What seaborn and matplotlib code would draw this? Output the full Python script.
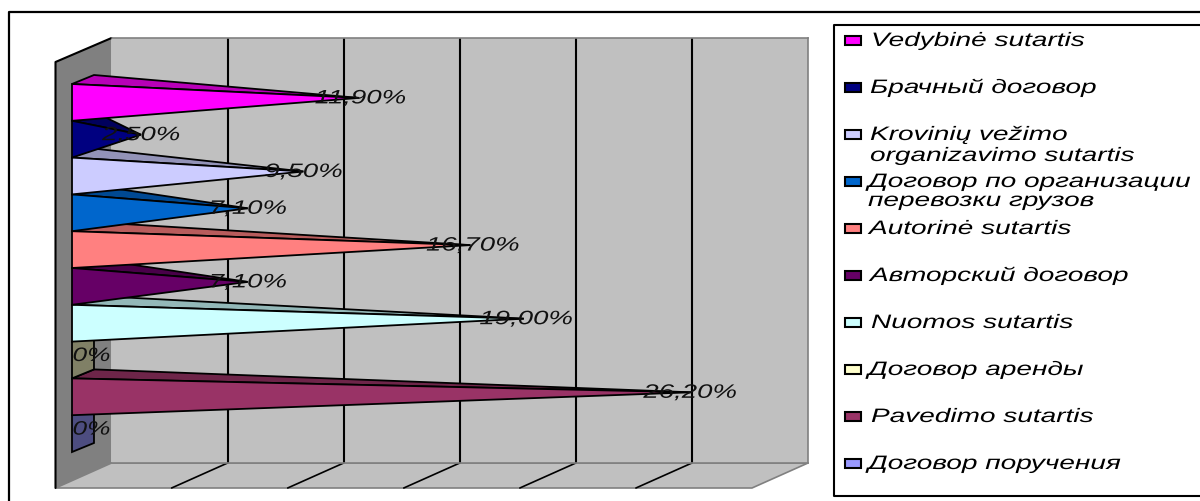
import matplotlib
matplotlib.use("Agg")
import matplotlib.pyplot as plt
from matplotlib.patches import Polygon, Rectangle
from matplotlib.patheffects import AbstractPathEffect
from matplotlib.transforms import Affine2D
from matplotlib.colors import to_rgb
import pandas as pd
import seaborn as sns

contracts = ["Vedybinė sutartis", "Брачный договор", "Krovinių vežimo\norganizavimo sutartis",
             "Договор по организации\nперевозки грузов", "Autorinė sutartis", "Авторский договор",
             "Nuomos sutartis", "Договор аренды", "Pavedimo sutartis", "Договор поручения"]
shares = [11.9, 2.5, 9.5, 7.1, 16.7, 7.1, 19.0, 0, 26.2, 0]
value_labels = ["11,90%", "2,50%", "9,50%", "7,10%", "16,70%", "7,10%", "19,00%", "0%", "26,20%", "0%"]
colors = ["#FF00FF", "#000080", "#CCCCFF", "#0066CC", "#FF8080",
          "#660066", "#CCFFFF", "#FFFFCC", "#993366", "#9999FF"]
grid_ticks = [0, 5, 10, 15, 20, 25, 30]

W, H = 1200, 502
DEPTH_X, DEPTH_Y = 22, 9      # pyramid base depth in pixels
WALL_DX, WALL_DY = 56, 25     # chart box depth in pixels


class StretchX(AbstractPathEffect):
    """Draws glyphs wider than the font's natural proportions."""
    def __init__(self, factor):
        super().__init__()
        self.factor = factor

    def draw_path(self, renderer, gc, tpath, affine, rgbFace=None):
        renderer.draw_path(gc, tpath, Affine2D().scale(self.factor, 1) + affine, rgbFace)


def shade(color, k):
    return tuple(c * k for c in to_rgb(color))


def axes_at(left, top, right, bottom, **kw):
    return fig.add_axes([left / W, 1 - bottom / H, (right - left) / W, (bottom - top) / H], **kw)


sns.set_theme(style="white")
plt.rcParams["font.family"] = ["Liberation Sans", "DejaVu Sans"]
fig = plt.figure(figsize=(W / 100, H / 100), dpi=100)

# Page layer: outer frame, legend box, walls and floor, addressed in pixels
page = fig.add_axes([0, 0, 1, 1], zorder=0)
page.set_xlim(0, W)
page.set_ylim(H, 0)
page.axis("off")
page.plot([9, 9, W], [H, 13, 13], color="black", lw=1.6)
page.plot([W, 833.5, 833.5, W], [26, 26, 497, 497], color="black", lw=1.5)

back_left, back_right, back_top, back_bottom = 111.5, 808, 39, 464
page.add_patch(Polygon([(back_left - WALL_DX, back_top + 24), (back_left, back_top),
                        (back_left, back_bottom), (back_left - WALL_DX, back_bottom + WALL_DY)],
                       fc="#808080", ec="none"))
page.plot([back_left - WALL_DX, back_left - WALL_DX, back_left],
          [back_bottom + WALL_DY, back_top + 24, back_top], color="black", lw=1.5)
page.add_patch(Polygon([(back_left - WALL_DX, back_bottom + WALL_DY), (back_left, back_bottom),
                        (back_right, back_bottom), (back_right - WALL_DX, back_bottom + WALL_DY)],
                       fc="#C0C0C0", ec="#808080", lw=1.2))

# Back wall with the value gridlines
wall = axes_at(back_left, back_top, back_right, back_bottom, zorder=1)
wall.set_facecolor("#C0C0C0")
wall.set_xlim(grid_ticks[0], grid_ticks[-1])
wall.set_ylim(0, 1)
wall.set_xticks(grid_ticks[1:-1])
wall.set_yticks([])
wall.tick_params(bottom=False, labelbottom=False)
wall.grid(axis="x", color="black", lw=1.5)
for spine in wall.spines.values():
    spine.set_color("#808080")
    spine.set_linewidth(1.2)
wall.spines["left"].set_visible(False)

# Floor lines continue the gridlines towards the viewer
px_per_unit = (back_right - back_left) / grid_ticks[-1]
for tick in grid_ticks[1:-1]:
    gx = back_left + tick * px_per_unit
    page.plot([gx, gx - WALL_DX], [back_bottom, back_bottom + WALL_DY], color="black", lw=1.2)

# Bars: the categorical layout comes from seaborn, each cell then becomes a pyramid
data = pd.DataFrame({"contract": contracts, "share": shares})
ax = axes_at(72, 85, 768, 453, zorder=2)
ax.patch.set_alpha(0)
sns.barplot(data=data, y="contract", x="share", hue="contract", palette=colors,
            width=1.0, orient="h", legend=False, dodge=False, ax=ax)
ax.set_xlim(0, grid_ticks[-1])
ax.set_ylim(len(contracts) - 0.5, -0.5)
ax.axis("off")

bars = {round(p.get_y() + p.get_height() / 2): p for p in ax.patches}
row_h = 368 / len(contracts)
dx_units = DEPTH_X / px_per_unit
dy_units = DEPTH_Y / row_h
line = dict(ec="black", lw=1.3, joinstyle="miter", clip_on=False)

# Lower rows first, so each front face covers the top face of the row beneath it
for i in reversed(range(len(contracts))):
    rect = bars[i]
    y0, y1 = rect.get_y(), rect.get_y() + rect.get_height()
    value = rect.get_width()
    color = colors[i]
    rect.set_visible(False)
    if value == 0:
        ax.add_patch(Polygon([(0, y0), (dx_units, y0 - dy_units), (dx_units, y1 - dy_units), (0, y1)],
                             fc=shade(color, 0.5), **line))
    else:
        apex = (value + dx_units / 2, (y0 + y1) / 2 - dy_units / 2)
        ax.add_patch(Polygon([(0, y0), (dx_units, y0 - dy_units), apex], fc=shade(color, 0.72), **line))
        ax.add_patch(Polygon([(0, y0), (0, y1), apex], fc=color, **line))

# Value labels are centred on each pyramid's apex
label_widths = {"11,90%": 89, "16,70%": 89, "19,00%": 89, "26,20%": 95, "2,50%": 78, "9,50%": 78, "7,10%": 78, "0%": 39}
for i, (value, label) in enumerate(zip(shares, value_labels)):
    w_px = label_widths[label]
    x = value + dx_units / 2 - (w_px / 2 - (9 if value == 0 else 0)) / px_per_unit
    y = i - dy_units / 2 + 1 / row_h
    ax.text(x, y, label, fontsize=14, style="italic", ha="left", va="center", color="#111111",
            clip_on=False, zorder=6, path_effects=[StretchX(1.42 if value else 1.35)])

# Legend, with keys and labels set on the page layer
key_centres = [41, 88, 135, 182, 229, 276, 323, 370, 417, 464]
text_lefts = [871, 870, 870, 868, 869, 870, 871, 868, 871, 868]
second_line_gaps = {2: 21, 3: 19}
for i, (name, color, yc, tx) in enumerate(zip(contracts, colors, key_centres, text_lefts)):
    page.add_patch(Rectangle((845, yc - 4), 15.5, 8.5, fc=color, ec="black", lw=1.5))
    baseline = yc + 6
    for part in name.split("\n"):
        page.text(tx, baseline, part, fontsize=14, style="italic", ha="left", va="baseline", color="black",
                  path_effects=[StretchX(1.44)])
        baseline += second_line_gaps.get(i, 0)

fig.savefig("out.png", dpi=100, facecolor="white")
